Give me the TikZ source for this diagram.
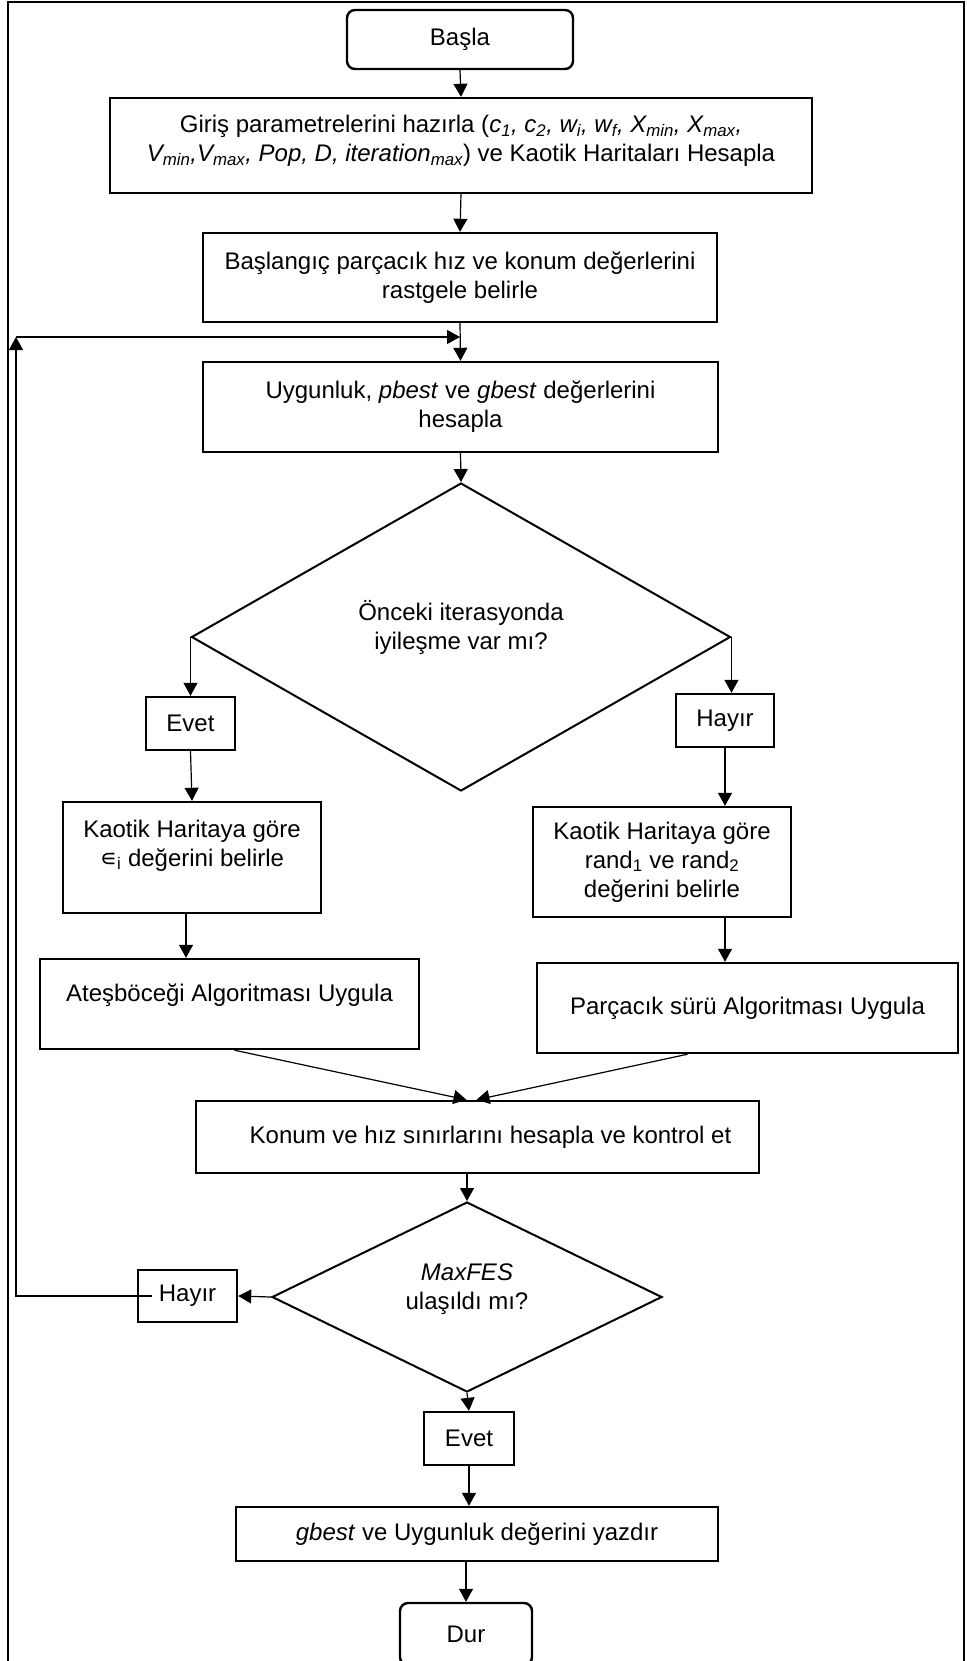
\documentclass[tikz,border=0pt]{standalone}
\usepackage{fontspec}
\setmainfont{Liberation Sans}
\newfontfamily\dejavu{DejaVu Sans}
\usetikzlibrary{shapes.geometric,arrows.meta}

\begin{document}
\begin{tikzpicture}
[x=1pt,y=-1pt,
 every node/.style={font=\fontsize{24}{29}\selectfont, align=center, inner sep=0pt},
 box/.style={draw=black, line width=2.4pt, rectangle},
 term/.style={box, rounded corners=8pt},
 decision/.style={diamond, draw=black, line width=2pt},
 arr/.style={line width=1.2pt, -{Triangle[length=13pt,width=14pt]}}]
\fill[white] (0,0) rectangle (966,1661);
\useasboundingbox (0,0) rectangle (966,1661);
\draw[line width=1.6pt] (8,1690) |- (964,2) -- (964,1690); % frame

\node[term, minimum width=226pt, minimum height=59pt] (basla) at (460,39.5) {Başla};
\node[box, minimum width=702pt, minimum height=95pt, text depth=14pt] (giris) at (461,145.5)
  {Giriş parametrelerini hazırla (\textit{c\textsubscript{1}, c\textsubscript{2}, w\textsubscript{i}, w\textsubscript{f}, X\textsubscript{min}, X\textsubscript{max},}\\
   \textit{V\textsubscript{min},V\textsubscript{max}, Pop, D, iteration\textsubscript{max}}) ve Kaotik Haritaları Hesapla};
\node[box, minimum width=514pt, minimum height=89pt] (baslangic) at (460,277.5)
  {Başlangıç parçacık hız ve konum değerlerini\\rastgele belirle};
\node[box, minimum width=515pt, minimum height=90pt] (uygun) at (460.5,407)
  {Uygunluk, \textit{pbest} ve \textit{gbest} değerlerini\\hesapla};
\node[decision, minimum width=539pt, minimum height=308pt, text depth=25pt] (karar1) at (461,637)
  {Önceki iterasyonda\\iyileşme var mı?};

% left branch
\node[box, minimum width=89pt, minimum height=53pt] (evet1) at (190.5,723.5) {Evet};
\node[box, minimum width=258pt, minimum height=111pt] (kaotik1) at (192,857.5)
  {Kaotik Haritaya göre\\{\dejavu ∊}\textsubscript{i} değerini belirle\\[0pt]\mbox{}};
\node[box, minimum width=379pt, minimum height=90pt, text depth=23pt] (ates) at (229.5,1004)
  {Ateşböceği Algoritması Uygula};

% right branch
\node[box, minimum width=98pt, minimum height=53pt] (hayir1) at (725,720.5) {Hayır};
\node[box, minimum width=258pt, minimum height=110pt] (kaotik2) at (662,862)
  {Kaotik Haritaya göre\\rand\textsubscript{1} ve rand\textsubscript{2}\\değerini belirle};
\node[box, minimum width=421pt, minimum height=90pt] (parcacik) at (747.5,1008)
  {Parçacık sürü Algoritması Uygula};

\node[box, minimum width=563pt, minimum height=72pt] (konum) at (477.5,1137)
  {\hspace*{26pt}Konum ve hız sınırlarını hesapla ve kontrol et};
\node[decision, minimum width=390pt, minimum height=190pt, text depth=20pt] (karar2) at (467,1297)
  {\textit{MaxFES}\\ulaşıldı mı?};
\node[box, minimum width=99pt, minimum height=52pt] (hayir2) at (187.5,1296) {Hayır};
\node[box, minimum width=90pt, minimum height=53pt] (evet2) at (469,1438.5) {Evet};
\node[box, minimum width=482pt, minimum height=54pt] (yazdir) at (477,1534)
  {\textit{gbest} ve Uygunluk değerini yazdır};
\node[term, minimum width=132pt, minimum height=62pt] (dur) at (466,1634) {Dur};

\coordinate (donus) at (16,337);
\coordinate (birles) at (baslangic.south |- donus);

\draw[arr] (basla.south) -- (giris.north);
\draw[arr] (giris.south) -- (baslangic.north);
\draw[arr] (baslangic.south) -- (uygun.north);
\draw[arr] (uygun.south) -- (karar1.north);
\draw[arr] (karar1.west) -- (karar1.west |- evet1.north);
\draw[arr] (evet1.south) -- (kaotik1.north);
\draw[arr] ([xshift=-6pt]kaotik1.south) -- ([xshift=-6pt]kaotik1.south |- ates.north);
\draw[arr] (karar1.east) -- (karar1.east |- hayir1.north);
\draw[arr] (hayir1.south) -- (hayir1.south |- kaotik2.north);
\draw[arr] (hayir1.south |- kaotik2.south) -- (hayir1.south |- parcacik.north);
\draw[arr] ([xshift=5pt]ates.south) -- ([xshift=-11pt]konum.north);
\draw[arr] ([xshift=-60pt]parcacik.south) -- ([xshift=-1pt]konum.north);
\draw[arr] (karar2.north |- konum.south) -- (karar2.north);
\draw[arr] (karar2.west) -- (hayir2.east);
\draw[arr] ([xshift=15pt]hayir2.west) -| (donus);
\draw[arr] (donus) -- (birles);
\draw[arr] (karar2.south) -- (evet2.north);
\draw[arr] (evet2.south) -- (evet2.south |- yazdir.north);
\draw[arr] (dur.north |- yazdir.south) -- (dur.north);
\end{tikzpicture}
\end{document}
